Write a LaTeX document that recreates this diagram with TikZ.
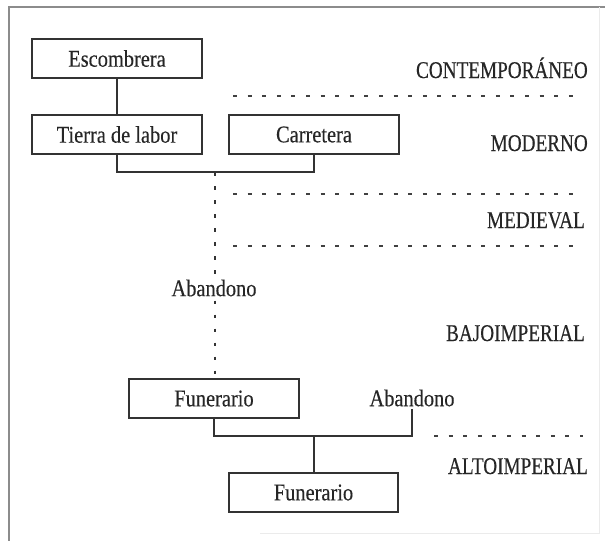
\documentclass[tikz,border=0pt]{standalone}
\usepackage{fontspec}
\setmainfont[FakeStretch=0.85,FakeBold=0.3]{Liberation Serif}
\newfontfamily\capsfont[FakeStretch=0.8,FakeBold=0.3]{Liberation Serif}
\tikzset{
  box/.style={draw=black!80, line width=1.9pt, rectangle, minimum width=170pt, minimum height=39pt, inner sep=0pt, text=black!85, font=\fontsize{24}{28}\selectfont},
  lbl/.style={inner sep=0pt, text=black!85, font=\fontsize{24}{28}\selectfont},
  period/.style={inner sep=0pt, anchor=base east, text=black!85, font=\capsfont\fontsize{24}{28}\selectfont},
  link/.style={draw=black!80, line width=2pt},
  gone/.style={draw=black!80, line width=2pt, dash pattern=on 3.5pt off 10.5pt},
  sep/.style={draw=black!75, line width=2pt, dash pattern=on 4pt off 10.6pt},
}
\begin{document}
\begin{tikzpicture}[x=1pt,y=-1pt]
\useasboundingbox (0,0) rectangle (605,541);
% frame
\draw[black!45, line width=1.2pt] (605,7) -- (9,7) -- (9,541);
\draw[black!8, line width=1pt] (599,7) -- (599,533) -- (260,533);
% boxes
\node[box] (esc) at (117,58.5) {Escombrera};
\node[box] (tierra) at (117,134.5) {Tierra de labor};
\node[box] (carr) at (314,134.5) {Carretera};
\node[box] (fun1) at (214,398.5) {Funerario};
\node[box, minimum width=169pt] (fun2) at (313.5,492.5) {Funerario};
\node[lbl, inner sep=4pt] (ab1) at (214,288) {Abandono};
\node[lbl, inner sep=2pt] (ab2) at (412,398) {Abandono};
% period labels
\node[period] (p1) at (588,78) {CONTEMPORÁNEO};
\node[period] (p2) at (588,151) {MODERNO};
\node[period] (p3) at (585,228) {MEDIEVAL};
\node[period] (p4) at (585,341) {BAJOIMPERIAL};
\node[period] (p5) at (588,474) {ALTOIMPERIAL};
% period separators
\coordinate (s1a) at (233,96);  \coordinate (s1b) at (583,96);
\coordinate (s2a) at (233,194); \coordinate (s2b) at (583,194);
\coordinate (s3a) at (233,246); \coordinate (s3b) at (583,246);
\coordinate (s4a) at (434,436); \coordinate (s4b) at (583,436);
\draw[sep] (s1a) -- (s1b);
\draw[sep] (s2a) -- (s2b);
\draw[sep] (s3a) -- (s3b);
\draw[sep] (s4a) -- (s4b);
% connectors
\draw[link] (esc.south) -- (tierra.north);
\coordinate (j1) at (215,172);
\draw[link] (tierra.south) |- (j1) -| (carr.south);
\draw[gone] (j1) -- (ab1.north -| j1);
\draw[gone] (ab1.south -| j1) -- (fun1.north -| j1);
\coordinate (j2) at (313.5,436);
\draw[link] (fun1.south) |- (j2) -| (ab2.south);
\draw[link] (j2) -- (fun2.north);
\end{tikzpicture}
\end{document}
